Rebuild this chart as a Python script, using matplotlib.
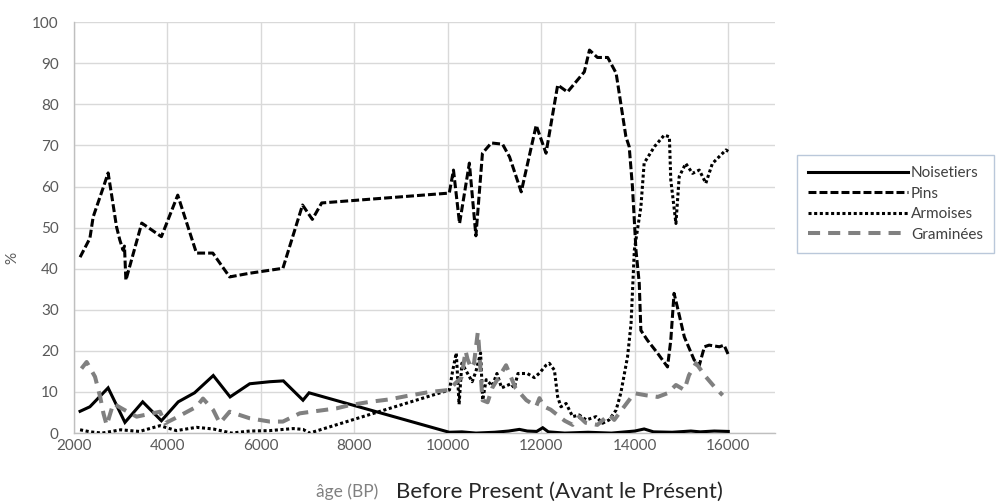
import matplotlib
matplotlib.use("Agg")
import matplotlib.pyplot as plt

plt.rcParams['font.family'] = ['Lato', 'DejaVu Sans']

# ---- data ----
noisetiers_x = [2130, 2340, 2730, 3090, 3470, 3870, 4230, 4580, 4980, 5340, 5760, 6190, 6480, 6900, 7030,
                10030, 10300, 10600, 11000, 11300, 11530, 11700, 11900, 12030, 12150, 12500, 13000, 13500,
                14000, 14200, 14400, 14800, 15200, 15400, 15700, 16000]
noisetiers_y = [5.3, 6.4, 11.0, 2.6, 7.6, 3.0, 7.6, 9.8, 14.0, 8.8, 12.0, 12.5, 12.7, 8.0, 9.8,
                0.2, 0.3, 0.0, 0.2, 0.5, 0.9, 0.5, 0.4, 1.3, 0.3, 0.0, 0.2, 0.0,
                0.5, 1.0, 0.3, 0.2, 0.5, 0.3, 0.5, 0.4]

pins_x = [2130, 2340, 2410, 2630, 2730, 2800, 2910, 2980, 3050, 3080, 3110, 3450, 3870, 4220, 4620, 4970,
          5330, 5760, 6470, 6890, 7100, 7300, 10030, 10120, 10250, 10460, 10600, 10740, 10930, 11170,
          11320, 11570, 11890, 12100, 12350, 12560, 12920, 13030, 13200, 13420, 13600, 13810, 13880,
          13950, 14025, 14095, 14130, 14270, 14490, 14700, 14770, 14840, 14910, 15060, 15270, 15380,
          15490, 15590, 15810, 15910, 16020]
pins_y = [42.8, 47.4, 52.6, 59.9, 63.3, 58.3, 50.2, 47.0, 44.5, 45.5, 37.2, 51.1, 47.8, 57.9, 43.8, 43.8,
          38.0, 38.9, 40.1, 55.5, 52.0, 56.0, 58.4, 64.0, 51.0, 65.7, 48.0, 68.1, 70.6, 70.3,
          67.2, 58.7, 74.9, 68.1, 84.7, 83.0, 87.9, 93.2, 91.4, 91.4, 87.6, 72.1, 69.7,
          59.9, 44.5, 36.5, 25.0, 22.6, 19.4, 16.1, 22.6, 34.0, 30.7, 23.4, 17.8, 16.5,
          21.0, 21.4, 21.0, 21.4, 18.6]

armoises_x = [2130, 2350, 2600, 3000, 3400, 3840, 4190, 4620, 4980, 5370, 5760, 6190, 6690, 6900, 7040,
              10035, 10100, 10180, 10240, 10300, 10520, 10600, 10700, 10745, 10820, 10950, 11050, 11150,
              11350, 11420, 11500, 11700, 11850, 11960, 12100, 12170, 12280, 12350, 12420, 12530, 12670,
              12810, 12960, 13170, 13310, 13450, 13600, 13700, 13845, 13920, 13990, 14130, 14200, 14420,
              14630, 14740, 14770, 14880, 14950, 15090, 15235, 15380, 15520, 15660, 15950, 16020]
armoises_y = [0.8, 0.3, 0.0, 0.8, 0.4, 1.8, 0.6, 1.4, 1.0, 0.0, 0.5, 0.6, 1.1, 0.9, 0.0,
              10.5, 15.0, 19.5, 7.0, 17.0, 12.5, 15.0, 19.5, 8.0, 13.0, 11.5, 14.5, 11.0,
              12.0, 11.0, 14.5, 14.5, 13.5, 14.6, 16.5, 17.0, 15.3, 8.8, 6.4, 7.2, 4.0,
              4.4, 3.2, 4.0, 2.4, 3.2, 5.6, 9.7, 18.6, 26.7, 44.5, 55.0, 65.7, 69.7,
              72.5, 72.1, 61.6, 51.0, 62.4, 65.6, 63.2, 64.0, 60.8, 65.6, 68.9, 68.4]

graminees_x = [2160, 2270, 2450, 2560, 2630, 2700, 2840, 3020, 3340, 3840, 3950, 4160, 4620, 4760, 4980,
               5120, 5330, 5760, 6190, 6470, 6830, 7080, 7610, 7900, 8330, 8750, 9110, 9610, 10035,
               10150, 10290, 10380, 10420, 10500, 10560, 10640, 10660, 10740, 10850, 10950, 11245,
               11300, 11445, 11680, 11890, 11960, 12050, 12200, 12500, 12670, 12810, 12950, 13200,
               13450, 13560, 13770, 13990, 14240, 14490, 14700, 14880, 15060, 15160, 15310, 15520,
               15700, 15880]
graminees_y = [15.7, 17.3, 13.7, 8.8, 4.8, 1.9, 7.2, 6.0, 4.0, 5.2, 2.4, 3.6, 6.4, 8.4, 5.6,
               2.4, 5.2, 3.6, 2.8, 2.8, 4.8, 5.2, 6.0, 6.8, 7.6, 8.2, 9.0, 10.0, 10.5,
               12.0, 13.5, 20.0, 18.0, 15.8, 17.0, 24.5, 22.0, 8.0, 7.5, 11.0, 16.5,
               15.0, 11.0, 8.0, 6.5, 8.5, 6.5, 5.7, 3.0, 2.0, 4.0, 2.5, 2.0,
               4.5, 3.2, 6.4, 9.7, 9.2, 8.8, 9.7, 11.7, 10.5, 14.1, 17.0, 13.7,
               11.3, 9.2]

x_ticks = [2000, 4000, 6000, 8000, 10000, 12000, 14000, 16000]
y_ticks = [0, 10, 20, 30, 40, 50, 60, 70, 80, 90, 100]
series_labels = ["Noisetiers", "Pins", "Armoises", "Graminées"]

# ---- figure ----
fig = plt.figure(figsize=(10, 5.03), dpi=100)
ax = fig.add_axes([0.074, 0.139, 0.701, 0.817])

lw_black = 2.2
ax.plot(noisetiers_x, noisetiers_y, color='black', lw=lw_black, solid_joinstyle='miter',
        label=series_labels[0], zorder=3)
ax.plot(pins_x, pins_y, color='black', lw=lw_black, linestyle=(0, (2.6, 1.0)),
        dash_capstyle='butt', label=series_labels[1], zorder=4)
ax.plot(armoises_x, armoises_y, color='black', lw=lw_black, linestyle=(0, (1.0, 0.85)),
        dash_capstyle='butt', label=series_labels[2], zorder=5)
ax.plot(graminees_x, graminees_y, color='#808080', lw=2.9, linestyle=(0, (3.0, 2.0)),
        dash_capstyle='butt', label=series_labels[3], zorder=6)

ax.set_xlim(2000, 17000)
ax.set_ylim(0, 100)
ax.set_xticks(x_ticks)
ax.set_yticks(y_ticks)
ax.grid(True, color='#d9d9d9', lw=1.0, zorder=0)
ax.set_axisbelow(True)
for s in ['top', 'right']:
    ax.spines[s].set_visible(False)
for s in ['left', 'bottom']:
    ax.spines[s].set_color('#bfbfbf')
    ax.spines[s].set_linewidth(1.0)
ax.tick_params(axis='both', length=0, labelsize=11, colors='#595959')
ax.tick_params(axis='y', pad=11)
ax.tick_params(axis='x', pad=4)

fig.text(0.012, 0.488, '%', rotation=90, ha='center', va='center', fontsize=11, color='#595959')
fig.text(0.347, 0.022, 'âge (BP)', ha='center', va='center', fontsize=12.5, color='#808080')
fig.text(0.396, 0.022, 'Before Present (Avant le Présent)', ha='left', va='center',
         fontsize=16, color='#262626')

leg = fig.legend(loc='upper left', bbox_to_anchor=(0.797, 0.692), frameon=True, fancybox=False,
                 fontsize=11, handlelength=6.5, handletextpad=0.2, labelspacing=0.42,
                 borderpad=0.75, borderaxespad=0.0)
leg.get_frame().set_edgecolor('#a9bbd1')
leg.get_frame().set_linewidth(1.0)
for t in leg.get_texts():
    t.set_color('#404040')

fig.savefig('out.png', dpi=100)
